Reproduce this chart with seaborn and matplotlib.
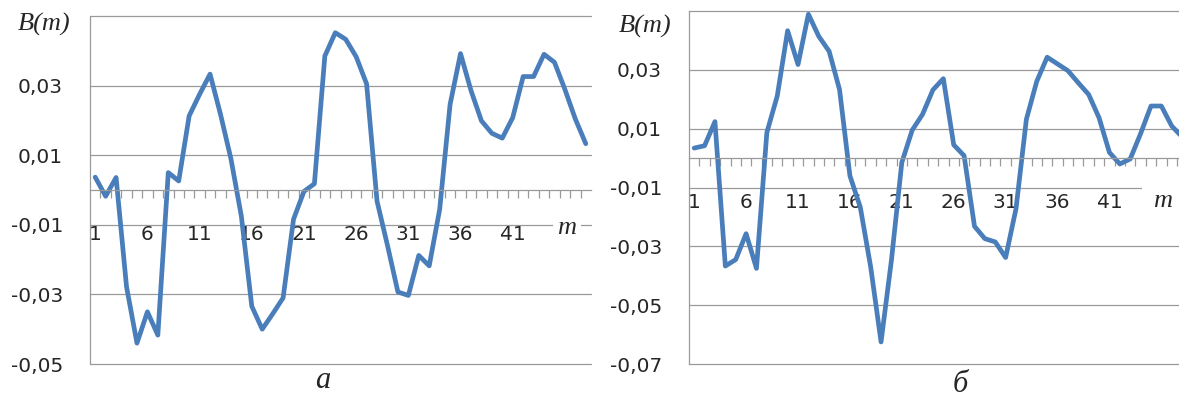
import numpy as np
import pandas as pd
import matplotlib
matplotlib.use("Agg")
import matplotlib.pyplot as plt
import seaborn as sns

# Values
m_a = list(range(1, 49))
b_a = [0.0037, -0.0018, 0.0036, -0.0278, -0.0440, -0.0350, -0.0417, 0.0050, 0.0026, 0.0213,
       0.0275, 0.0333, 0.0218, 0.0090, -0.0075, -0.0334, -0.0400, -0.0356, -0.0310, -0.0084,
       -0.0004, 0.0018, 0.0385, 0.0452, 0.0433, 0.0383, 0.0305, -0.0032, -0.0159, -0.0293,
       -0.0303, -0.0188, -0.0218, -0.0056, 0.0246, 0.0392, 0.0286, 0.0199, 0.0163, 0.0149,
       0.0208, 0.0326, 0.0326, 0.0390, 0.0367, 0.0289, 0.0204, 0.0133]

m_b = list(range(1, 49))
b_b = [0.0034, 0.0042, 0.0124, -0.0367, -0.0345, -0.0257, -0.0375, 0.0087, 0.0211, 0.0433,
       0.0318, 0.0489, 0.0414, 0.0363, 0.0233, -0.0060, -0.0167, -0.0370, -0.0625, -0.0347,
       -0.0015, 0.0095, 0.0149, 0.0232, 0.0270, 0.0045, 0.0008, -0.0232, -0.0274, -0.0285,
       -0.0338, -0.0172, 0.0132, 0.0261, 0.0343, 0.0320, 0.0297, 0.0256, 0.0216, 0.0137,
       0.0019, -0.0020, -0.0003, 0.0083, 0.0177, 0.0177, 0.0109, 0.0072]

x_ticks = [1, 6, 11, 16, 21, 26, 31, 36, 41]
y_ticks_a = [-0.05, -0.03, -0.01, 0.01, 0.03, 0.05]
y_labels_a = ["-0,05", "-0,03", "-0,01", "0,01", "0,03", ""]
y_ticks_b = [-0.07, -0.05, -0.03, -0.01, 0.01, 0.03, 0.05]
y_labels_b = ["-0,07", "-0,05", "-0,03", "-0,01", "0,01", "0,03", ""]

sns.set_style("white")
plt.rcParams['font.family'] = ['DejaVu Sans']

LINE = '#4a7ebb'
GRID = '#9a9a9a'
SERIF = 'Liberation Serif'

fig = plt.figure(figsize=(11.79, 3.98), dpi=100)
ax_a = fig.add_axes([90 / 1179, 34 / 398, 501 / 1179, 348 / 398])
ax_b = fig.add_axes([689 / 1179, 34 / 398, 490 / 1179, 353 / 398])


def style_axis(ax, yticks, ylabels, ylim, xlim):
    ax.set_xlim(*xlim)
    ax.set_ylim(*ylim)
    ax.set_yticks(yticks)
    ax.set_yticklabels(ylabels)
    ax.set_xticks(x_ticks)
    ax.set_xticklabels([str(t) for t in x_ticks])
    ax.set_xticks(np.arange(1.5, 48.5, 1.0), minor=True)
    ax.grid(False)
    # horizontal grid drawn by hand so the outer ones are not clipped
    for yv in yticks:
        ax.axhline(yv, color=GRID, lw=0.9, zorder=0.5, clip_on=False)
    for s in ['top', 'right']:
        ax.spines[s].set_visible(False)
    ax.spines['left'].set_color(GRID)
    ax.spines['left'].set_linewidth(0.9)
    ax.spines['bottom'].set_position(('data', 0))
    ax.spines['bottom'].set_color(GRID)
    ax.spines['bottom'].set_linewidth(0.9)
    ax.tick_params(axis='y', direction='out', length=6.5, width=0.9, color=GRID,
                   pad=13, labelsize=14.5)
    ax.tick_params(axis='x', which='major', length=0, pad=25, labelsize=14.5)
    ax.tick_params(axis='x', which='minor', direction='out', length=5.8, width=0.9,
                   color=GRID, bottom=True)
    ax.set_xlabel('')
    ax.set_ylabel('')


sns.lineplot(x=m_a, y=b_a, ax=ax_a, color=LINE, lw=3.4)
style_axis(ax_a, y_ticks_a, y_labels_a, (-0.05, 0.05), (0.5, 48.5))
ax_a.text(46.2, -0.0109, 'm', fontsize=19, family=SERIF, style='italic',
          ha='center', va='center',
          bbox=dict(facecolor='white', edgecolor='none', pad=3))

sns.lineplot(x=m_b, y=b_b, ax=ax_b, color=LINE, lw=3.4)
style_axis(ax_b, y_ticks_b, y_labels_b, (-0.07, 0.05), (0.5, 47.7))
ax_b.text(46.1, -0.0147, 'm', fontsize=19, family=SERIF, style='italic',
          ha='center', va='center',
          bbox=dict(facecolor='white', edgecolor='none', pad=8))

fig.text(44 / 1179, 1 - 24 / 398, 'B(m)', fontsize=19, family=SERIF, style='italic',
         ha='center', va='center')
fig.text(645 / 1179, 1 - 26 / 398, 'B(m)', fontsize=19, family=SERIF, style='italic',
         ha='center', va='center')
fig.text(323 / 1179, 1 - 380 / 398, 'а', fontsize=22, family=SERIF, style='italic',
         ha='center', va='center')
fig.text(960 / 1179, 1 - 385 / 398, 'б', fontsize=22, family=SERIF, style='italic',
         ha='center', va='center')

fig.savefig('out.png', dpi=100)
